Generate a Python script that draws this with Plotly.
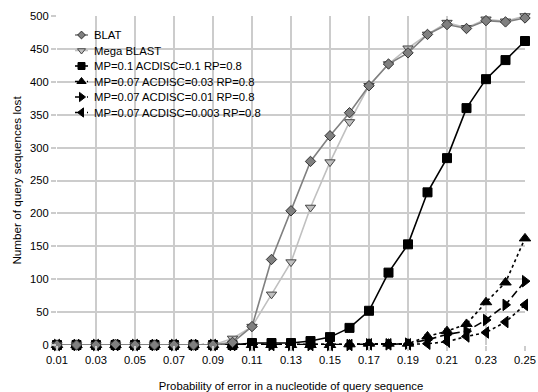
import plotly.graph_objects as go

x_vals = [0.01, 0.02, 0.03, 0.04, 0.05, 0.06, 0.07, 0.08, 0.09, 0.10, 0.11, 0.12, 0.13,
          0.14, 0.15, 0.16, 0.17, 0.18, 0.19, 0.20, 0.21, 0.22, 0.23, 0.24, 0.25]
tick_vals = [0.01, 0.03, 0.05, 0.07, 0.09, 0.11, 0.13, 0.15, 0.17, 0.19, 0.21, 0.23, 0.25]
tick_text = ["0.01", "0.03", "0.05", "0.07", "0.09", "0.11", "0.13", "0.15", "0.17", "0.19", "0.21", "0.23", "0.25"]
y_ticks = [0, 50, 100, 150, 200, 250, 300, 350, 400, 450, 500]

blat = [0, 0, 0, 1, 0, 0, 0, 0, 0, 4, 28, 130, 204, 279, 318, 353, 394, 427, 444, 472, 487, 481, 493, 491, 497]
mega_blast = [0, 0, 0, 0, 0, 0, 0, 0, 0, 10, 28, 77, 126, 209, 278, 339, 394, 427, 451, 472, 490, 482, 495, 492, 500]
mp01 = [0, 0, 0, 0, 0, 0, 0, 0, 0, 0, 3, 3, 3, 6, 12, 26, 52, 110, 153, 232, 284, 360, 404, 433, 462]
acd003 = [0, 0, 0, 0, 0, 0, 0, 0, 0, 0, 0, 0, 0, 0, 0, 1, 2, 2, 2, 13, 21, 32, 65, 95, 162]
acd001 = [0, 0, 0, 0, 0, 0, 0, 0, 0, 0, 0, 0, 0, 0, 0, 0, 1, 1, 2, 8, 16, 21, 38, 61, 97]
acd0003 = [0, 0, 0, 0, 0, 0, 0, 0, 0, 0, 0, 0, 0, 0, 0, 0, 1, 1, 1, 2, 5, 13, 19, 35, 61]

names = ["BLAT", "Mega BLAST", "MP=0.1 ACDISC=0.1 RP=0.8", "MP=0.07 ACDISC=0.03 RP=0.8",
         "MP=0.07 ACDISC=0.01 RP=0.8", "MP=0.07 ACDISC=0.003 RP=0.8"]
series = [blat, mega_blast, mp01, acd003, acd001, acd0003]

# style per series: line colour, dash, symbol, marker fill, marker outline, size
styles = [
    ("#808080", "solid", "diamond", "#808080", "#333333", 8),
    ("#c0c0c0", "solid", "triangle-down", "#c0c0c0", "#444444", 9),
    ("#000000", "solid", "square", "#000000", "#000000", 9),
    ("#000000", "3px,3px", "triangle-up", "#000000", "#000000", 10),
    ("#000000", "8px,4px", "triangle-right", "#000000", "#000000", 10),
    ("#000000", "dot", "triangle-left", "#000000", "#000000", 10),
]

font = "Liberation Sans, Arial, sans-serif"
W, H = 538, 392
ML, MR, MT, MB = 57, 13, 16, 47
PW, PH = W - ML - MR, H - MT - MB

fig = go.Figure()

# draw in reverse order so BLAT ends up on top, as in the reference
for y, name, (lc, dash, sym, mf, ml, ms) in reversed(list(zip(series, names, styles))):
    fig.add_trace(go.Scatter(
        x=x_vals, y=y, name=name, mode="lines+markers", cliponaxis=False, showlegend=False,
        line=dict(color=lc, width=1.6, dash=dash),
        marker=dict(symbol=sym, size=ms, color=mf, line=dict(color=ml, width=1)),
    ))

# custom legend (pixel-like overlay axes relative to plot area)
leg_x0, leg_x1, leg_text_x = 75 - ML, 88 - ML, 92
leg_y0, leg_dy = 35 - MT, 15.5
annotations = []
for i, (name, (lc, dash, sym, mf, ml, ms)) in enumerate(zip(names, styles)):
    yy = leg_y0 + i * leg_dy
    fig.add_trace(go.Scatter(
        x=[leg_x0, leg_x1], y=[yy, yy], mode="lines", xaxis="x2", yaxis="y2",
        showlegend=False, hoverinfo="skip", cliponaxis=False,
        line=dict(color=lc, width=1.6, dash=dash)))
    fig.add_trace(go.Scatter(
        x=[(leg_x0 + leg_x1) / 2], y=[yy], mode="markers", xaxis="x2", yaxis="y2",
        showlegend=False, hoverinfo="skip", cliponaxis=False,
        marker=dict(symbol=sym, size=ms - 2, color=mf, line=dict(color=ml, width=1))))
    annotations.append(dict(
        x=(leg_text_x - ML) / PW, y=1 - (yy) / PH, xref="paper", yref="paper",
        text=name, showarrow=False, xanchor="left", yanchor="middle",
        font=dict(family=font, size=11.3, color="#000000")))

fig.add_shape(type="rect", xref="paper", yref="paper", layer="between",
              x0=(68 - ML) / PW, x1=(268 - ML) / PW,
              y0=1 - (121 - MT) / PH, y1=1 - (25 - MT) / PH,
              fillcolor="white", line=dict(width=0))

fig.update_layout(
    width=W, height=H,
    margin=dict(l=ML, r=MR, t=MT, b=MB, autoexpand=False),
    paper_bgcolor="white", plot_bgcolor="white",
    font=dict(family=font, size=11.3, color="#000000"),
    showlegend=False,
    annotations=annotations,
    xaxis=dict(range=[0.01, 0.25], tickvals=tick_vals, ticktext=tick_text,
               automargin=False,
               showgrid=True, gridcolor="#cccccc", gridwidth=2,
               ticks="outside", ticklen=5, tickcolor="#cccccc", tickwidth=2,
               tickfont=dict(size=11.2),
               zeroline=False, showline=False,
               title=dict(text="Probability of error in a nucleotide of query sequence",
                          font=dict(size=11.3), standoff=20)),
    yaxis=dict(range=[0, 500], tickvals=y_ticks,
               automargin=False,
               showgrid=True, gridcolor="#cccccc", gridwidth=2,
               ticks="outside", ticklen=5, tickcolor="#cccccc", tickwidth=2,
               tickfont=dict(size=11.2),
               zeroline=False, showline=False,
               title=dict(text="Number of query sequences lost", font=dict(size=11.7), standoff=5)),
    xaxis2=dict(overlaying="x", range=[0, PW], visible=False, fixedrange=True, automargin=False),
    yaxis2=dict(overlaying="y", range=[PH, 0], visible=False, fixedrange=True, automargin=False),
)

fig.write_html("out.html")
